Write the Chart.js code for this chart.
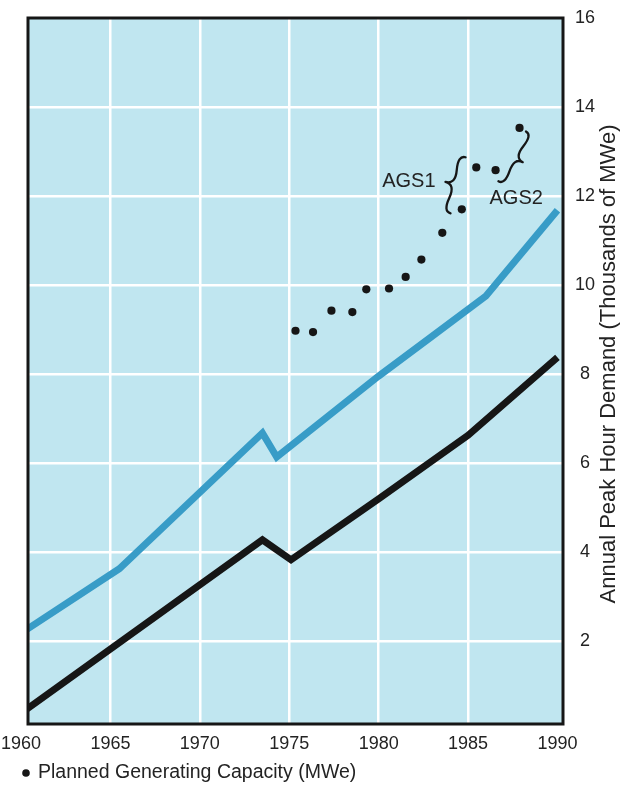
<!DOCTYPE html>
<html>
<head>
<meta charset="utf-8">
<script src="https://cdn.jsdelivr.net/npm/chart.js@4/dist/chart.umd.min.js"></script>
<style>
  html, body { margin: 0; padding: 0; background: #fff; }
  #chart { display: block; }
</style>
</head>
<body>
<canvas id="chart" width="620" height="787"></canvas>
<script>
'use strict';

// ── Data ──────────────────────────────────────────────────────────────────
const blueYears   = [1960, 1965.5, 1973.5, 1974.3, 1980, 1983, 1986, 1990];
const blueValues  = [2.17, 3.62, 6.67, 6.13, 7.95, 8.85, 9.75, 11.68];

const blackYears  = [1960, 1973.5, 1975.1, 1980, 1985, 1990];
const blackValues = [0.37, 4.27, 3.82, 5.19, 6.62, 8.37];

const capYears  = [1975.35, 1976.33, 1977.36, 1978.53, 1979.31, 1980.58, 1981.51,
                   1982.39, 1983.56, 1984.65, 1985.46, 1986.54, 1987.88];
const capValues = [8.97, 8.94, 9.42, 9.39, 9.90, 9.92, 10.18,
                   10.57, 11.17, 11.70, 12.64, 12.58, 13.53];

const xTicks = [1960, 1965, 1970, 1975, 1980, 1985, 1990];
const yTicks = [2, 4, 6, 8, 10, 12, 14, 16];

const legendLabel = 'Planned Generating Capacity (MWe)';
const yTitle      = 'Annual Peak Hour Demand (Thousands of MWe)';

// annotation anchors, in data units
const ags1Label = { x: 1983.18, y: 12.33, text: 'AGS1' };
const ags2Label = { x: 1986.2,  y: 11.95, text: 'AGS2' };
const ags1Brace = [[1984.86, 12.87], [1984.02, 11.61]];
const ags2Brace = [[1986.7, 12.33], [1988.24, 13.45]];

const FONT   = '"Liberation Sans", Arial, Helvetica, sans-serif';
const INK    = '#232323';
const BG     = '#c0e6f0';
const BLUE   = '#389cc7';
const BLACK  = '#161616';

const pairs = (xs, ys) => xs.map((x, i) => ({ x, y: ys[i] }));

// curly brace from (x1,y1) to (x2,y2), tip pushed w px to one side
function drawBrace(ctx, x1, y1, x2, y2, w) {
  const q = 0.6;
  let dx = x1 - x2, dy = y1 - y2;
  const len = Math.hypot(dx, dy);
  dx /= len; dy /= len;
  const qx1 = x1 + q * w * dy,                         qy1 = y1 - q * w * dx;
  const qx2 = x1 - 0.25 * len * dx + (1 - q) * w * dy, qy2 = y1 - 0.25 * len * dy - (1 - q) * w * dx;
  const tx  = x1 - 0.5 * len * dx + w * dy,            ty  = y1 - 0.5 * len * dy - w * dx;
  const qx3 = x2 + q * w * dy,                         qy3 = y2 - q * w * dx;
  const qx4 = x1 - 0.75 * len * dx + (1 - q) * w * dy, qy4 = y1 - 0.75 * len * dy - (1 - q) * w * dx;
  ctx.beginPath();
  ctx.moveTo(x1, y1);
  ctx.quadraticCurveTo(qx1, qy1, qx2, qy2);
  ctx.quadraticCurveTo(2 * qx2 - qx1, 2 * qy2 - qy1, tx, ty);
  ctx.moveTo(x2, y2);
  ctx.quadraticCurveTo(qx3, qy3, qx4, qy4);
  ctx.quadraticCurveTo(2 * qx4 - qx3, 2 * qy4 - qy3, tx, ty);
  ctx.stroke();
}

// ── Plugins: panel fill, frame, annotations, rotated title, legend ───────
const decor = {
  id: 'decor',
  beforeDraw(chart) {
    const { ctx, chartArea: a } = chart;
    ctx.save();
    ctx.fillStyle = BG;
    ctx.fillRect(a.left, a.top, a.right - a.left, a.bottom - a.top);
    ctx.restore();
  },
  afterDraw(chart) {
    const { ctx, chartArea: a, scales: { x, y } } = chart;
    ctx.save();

    // frame
    ctx.strokeStyle = BLACK;
    ctx.lineWidth = 3;
    ctx.strokeRect(a.left, a.top, a.right - a.left, a.bottom - a.top);

    // AGS labels and braces
    ctx.fillStyle = INK;
    ctx.font = `20px ${FONT}`;
    ctx.textBaseline = 'middle';
    ctx.textAlign = 'right';
    ctx.fillText(ags1Label.text, x.getPixelForValue(ags1Label.x), y.getPixelForValue(ags1Label.y));
    ctx.textAlign = 'left';
    ctx.fillText(ags2Label.text, x.getPixelForValue(ags2Label.x), y.getPixelForValue(ags2Label.y));

    ctx.strokeStyle = BLACK;
    ctx.lineWidth = 2.3;
    ctx.lineCap = 'round';
    [[ags1Brace, 13], [ags2Brace, 12]].forEach(([[p1, p2], w]) => {
      drawBrace(ctx,
        x.getPixelForValue(p1[0]), y.getPixelForValue(p1[1]),
        x.getPixelForValue(p2[0]), y.getPixelForValue(p2[1]), w);
    });

    // right-hand axis title, reading bottom to top
    ctx.save();
    ctx.translate(609, 364);
    ctx.rotate(-Math.PI / 2);
    ctx.textAlign = 'center';
    ctx.textBaseline = 'middle';
    ctx.font = `22px ${FONT}`;
    ctx.fillStyle = INK;
    ctx.fillText(yTitle, 0, 0);
    ctx.restore();

    // legend line under the x axis
    ctx.fillStyle = BLACK;
    ctx.beginPath();
    ctx.arc(26, 773, 3.8, 0, Math.PI * 2);
    ctx.fill();
    ctx.fillStyle = INK;
    ctx.font = `19.5px ${FONT}`;
    ctx.textAlign = 'left';
    ctx.textBaseline = 'middle';
    ctx.fillText(legendLabel, 38, 773);

    ctx.restore();
  }
};

new Chart(document.getElementById('chart'), {
  type: 'line',
  data: {
    datasets: [
      { label: 'Blue', data: pairs(blueYears, blueValues), borderColor: BLUE,
        borderWidth: 7, pointRadius: 0, tension: 0, borderJoinStyle: 'miter' },
      { label: 'Black', data: pairs(blackYears, blackValues), borderColor: BLACK,
        borderWidth: 7, pointRadius: 0, tension: 0, borderJoinStyle: 'miter' },
      { label: legendLabel, data: pairs(capYears, capValues), showLine: false,
        pointRadius: 4.1, pointBackgroundColor: BLACK, pointBorderWidth: 0 }
    ]
  },
  options: {
    responsive: false,
    animation: false,
    devicePixelRatio: 1,
    layout: { padding: { left: 28, right: 0, top: 18, bottom: 27 } },
    plugins: { legend: { display: false }, tooltip: { enabled: false } },
    scales: {
      x: {
        type: 'linear', min: 1960.39, max: 1990.31,
        afterBuildTicks: s => { s.ticks = xTicks.map(v => ({ value: v })); },
        afterFit: s => { s.height = 36; s.paddingLeft = 0; s.paddingRight = 0; },
        ticks: { padding: 9, color: INK, font: { family: FONT, size: 18 }, callback: v => String(v) },
        grid: { drawTicks: false, lineWidth: 2.5,
          color: c => (c.tick && c.tick.value > 1960 && c.tick.value < 1990) ? '#ffffff' : 'rgba(0,0,0,0)' },
        border: { display: false }
      },
      y: {
        position: 'right', min: 0.13, max: 16,
        afterBuildTicks: s => { s.ticks = yTicks.map(v => ({ value: v })); },
        afterFit: s => { s.width = 57; s.paddingTop = 0; s.paddingBottom = 0; },
        ticks: { padding: 12, crossAlign: 'center', color: INK, font: { family: FONT, size: 18 }, callback: v => String(v) },
        grid: { drawTicks: false, lineWidth: 2.5,
          color: c => (c.tick && c.tick.value < 16) ? '#ffffff' : 'rgba(0,0,0,0)' },
        border: { display: false }
      }
    }
  },
  plugins: [decor]
});
</script>
</body>
</html>
